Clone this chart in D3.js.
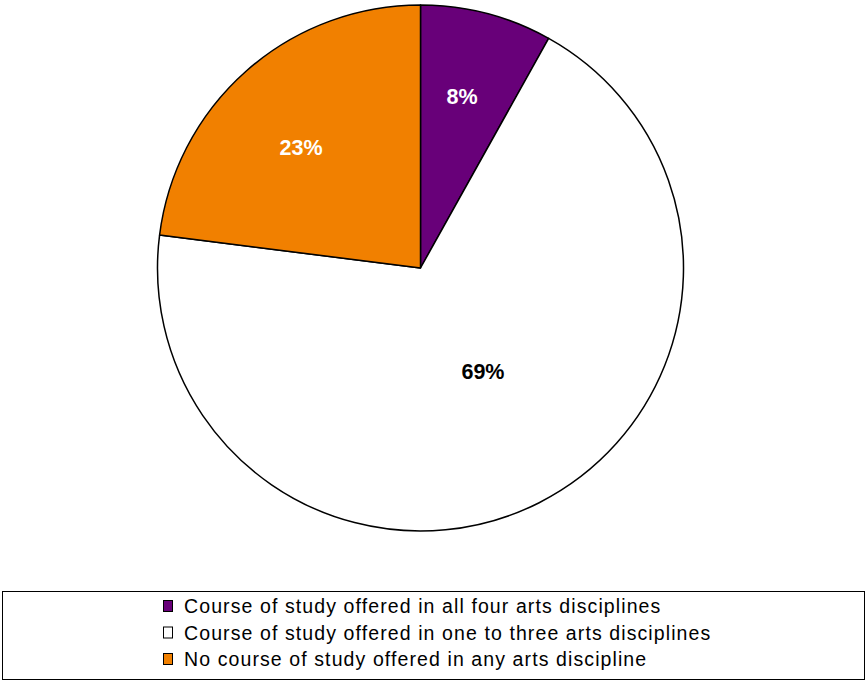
<!DOCTYPE html>
<html><head><meta charset="utf-8">
<script src="https://cdn.jsdelivr.net/npm/d3@7"></script>
<style>body{margin:0;background:#fff}svg{display:block}</style>
</head><body>
<svg id="c" width="866" height="681"></svg>
<script>
const categories = ["Course of study offered in all four arts disciplines","Course of study offered in one to three arts disciplines","No course of study offered in any arts discipline"];
const values = [8.1, 68.9, 23.0];
const labels = ["8%","69%","23%"];
const colors = ["#680079","#ffffff","#f18000"];
const labelColors = ["#ffffff","#000000","#ffffff"];

const svg = d3.select("#c");
const cx = 420.5, cy = 268, R = 263;
const pie = d3.pie().sort(null).value(d => d)(values);
const arc = d3.arc().innerRadius(0).outerRadius(R);
const g = svg.append("g").attr("transform", `translate(${cx},${cy})`);
g.selectAll("path").data(pie).join("path")
  .attr("d", arc).attr("fill", (d,i)=>colors[i])
  .attr("stroke","#000").attr("stroke-width",1.5).attr("stroke-linejoin","round");
// label placement (radius fraction, angle offset in degrees) tuned to the reference layout
const lr = [0.673, 0.458, 0.647];
const la = [-1.0, -4.4, -3.2];
g.selectAll("text").data(pie).join("text")
  .attr("transform",(d,i)=>{const a=(d.startAngle+d.endAngle)/2 + la[i]*Math.PI/180; const p=d3.pointRadial(a, R*lr[i]); return `translate(${p[0]},${p[1]})`;})
  .attr("text-anchor","middle").attr("dy","0.36em")
  .attr("font-family","Liberation Sans, Arial, sans-serif").attr("font-weight","bold").attr("font-size",21.5)
  .attr("fill",(d,i)=>labelColors[i]).text((d,i)=>labels[i]);

// legend
svg.append("rect").attr("x",2.5).attr("y",591.5).attr("width",862).attr("height",88)
  .attr("fill","#fff").attr("stroke","#000").attr("stroke-width",1);
const lg = svg.append("g");
categories.forEach((c,i)=>{
  const y = 606 + i*26.5;
  lg.append("rect").attr("x",163.5).attr("y",y-5.5).attr("width",9).attr("height",11)
    .attr("fill",colors[i]).attr("stroke","#000").attr("stroke-width",1);
  lg.append("text").attr("x",184).attr("y",y).attr("dy","0.36em")
    .attr("font-family","Liberation Sans, Arial, sans-serif").attr("font-size",19.5)
    .attr("letter-spacing",1.1).attr("fill","#000").text(c);
});
</script>
</body></html>
